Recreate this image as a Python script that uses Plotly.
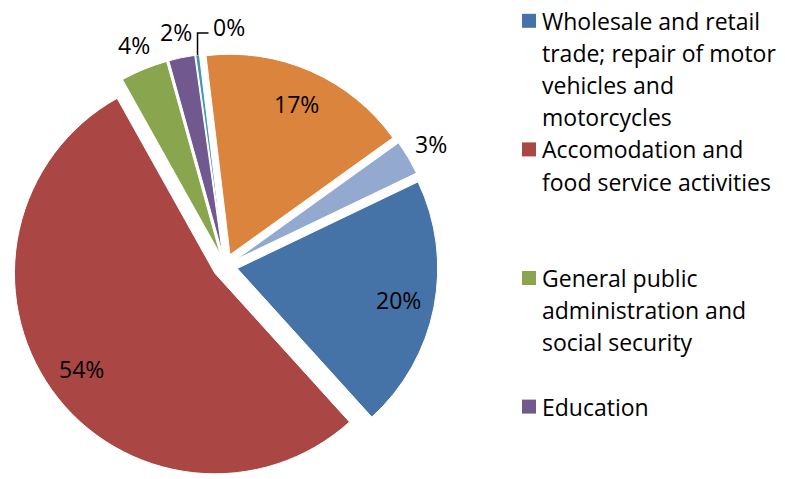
import math
import plotly.graph_objects as go

# ---- data ----
sectors = [
    "Wholesale and retail trade; repair of motor vehicles and motorcycles",
    "Accomodation and food service activities",
    "General public administration and social security",
    "Education",
    "Other (a)",
    "Other (b)",
    "Other (c)",
]
shares = [20.4, 53.6, 3.8, 2.1, 0.3, 17.0, 2.8]
colors = ["#4572A7", "#AA4643", "#89A54E", "#71588F", "#4198AF", "#DB843D", "#93A9CF"]

legend_lines = [
    ["Wholesale and retail", "trade; repair of motor", "vehicles and", "motorcycles"],
    ["Accomodation and", "food service activities"],
    ["General public", "administration and", "social security"],
    ["Education"],
]
legend_rows = [0, 4, 8, 12]

# ---- layout / style ----
W, H = 785, 479
FONT = "Open Sans"
FS = 23
ROTATION = 64.4
PULL = 0.062
DOM_X = [0.0154, 0.5579]
DOM_Y = [0.0, 0.889]


def px2paper(x, y):
    return x / W, 1 - y / H


fig = go.Figure()
fig.add_trace(go.Pie(
    labels=sectors,
    values=shares,
    sort=False,
    direction="clockwise",
    rotation=ROTATION,
    pull=[PULL] * len(shares),
    marker=dict(colors=colors, line=dict(color="white", width=1)),
    textinfo="none",
    domain=dict(x=DOM_X, y=DOM_Y),
    showlegend=False,
    automargin=False,
    hoverinfo="label+percent",
))

# pie geometry (same rules plotly uses to size the pie in its domain)
box_w = W * (DOM_X[1] - DOM_X[0])
box_h = H * (DOM_Y[1] - DOM_Y[0])
R = min(box_w, box_h) / 2 / (1 + PULL)
CX = W * (DOM_X[0] + DOM_X[1]) / 2
CY = H * (1 - DOM_Y[0]) - box_h / 2

label_font = dict(family=FONT, size=FS, color="black")
total = sum(shares)
start = ROTATION
for v in shares:
    ang = start + v / total * 360 / 2
    start += v / total * 360
    a = math.radians(ang)
    dx, dy = math.sin(a), -math.cos(a)
    tx, ty = CX + PULL * R * dx, CY + PULL * R * dy  # pulled slice apex
    pct = v / total * 100
    txt = f"{round(pct)}%"
    if pct >= 10:
        lx, ly = tx + 0.82 * R * dx, ty + 0.82 * R * dy
        fig.add_annotation(text=txt, xref="paper", yref="paper",
                           x=lx / W, y=1 - ly / H, xanchor="center", yanchor="middle",
                           showarrow=False, font=label_font)
    elif pct >= 1:
        lx, ly = tx + 1.13 * R * dx, ty + 1.13 * R * dy
        fig.add_annotation(text=txt, xref="paper", yref="paper",
                           x=lx / W, y=1 - ly / H, xanchor="center", yanchor="middle",
                           showarrow=False, font=label_font)
    else:
        ox, oy = tx + R * dx, ty + R * dy
        ex, ey = ox, oy - 22
        fx = ex + 11
        p0, p1, p2 = px2paper(ox, oy), px2paper(ex, ey), px2paper(fx, ey)
        fig.add_shape(type="path", xref="paper", yref="paper",
                      path=f"M {p0[0]} {p0[1]} L {p1[0]} {p1[1]} L {p2[0]} {p2[1]}",
                      line=dict(color="black", width=1.5))
        fig.add_annotation(text=txt, xref="paper", yref="paper",
                           x=(fx + 2) / W, y=1 - (ey - 6) / H, xanchor="left", yanchor="middle",
                           showarrow=False, font=label_font)

# legend: coloured squares + wrapped text lines
row_h = 32.15
first_center = 20.8
for entry, row0, col in zip(legend_lines, legend_rows, colors[:4]):
    cy = first_center + row0 * row_h
    fig.add_shape(type="rect", xref="paper", yref="paper",
                  x0=522 / W, x1=536 / W,
                  y0=1 - (cy + 7) / H, y1=1 - (cy - 7) / H,
                  fillcolor=col, line=dict(width=0))
    for k, line in enumerate(entry):
        yy = first_center + (row0 + k) * row_h
        fig.add_annotation(text=line, xref="paper", yref="paper",
                           x=540 / W, y=1 - yy / H, xanchor="left", yanchor="middle",
                           showarrow=False, font=label_font)

fig.update_layout(
    width=W, height=H,
    margin=dict(l=0, r=0, t=0, b=0, autoexpand=False),
    paper_bgcolor="white",
    plot_bgcolor="white",
    font=dict(family=FONT, size=FS, color="black"),
)
fig.write_html("out.html", config={"displayModeBar": False},
               post_script="document.body.style.margin='0';")
